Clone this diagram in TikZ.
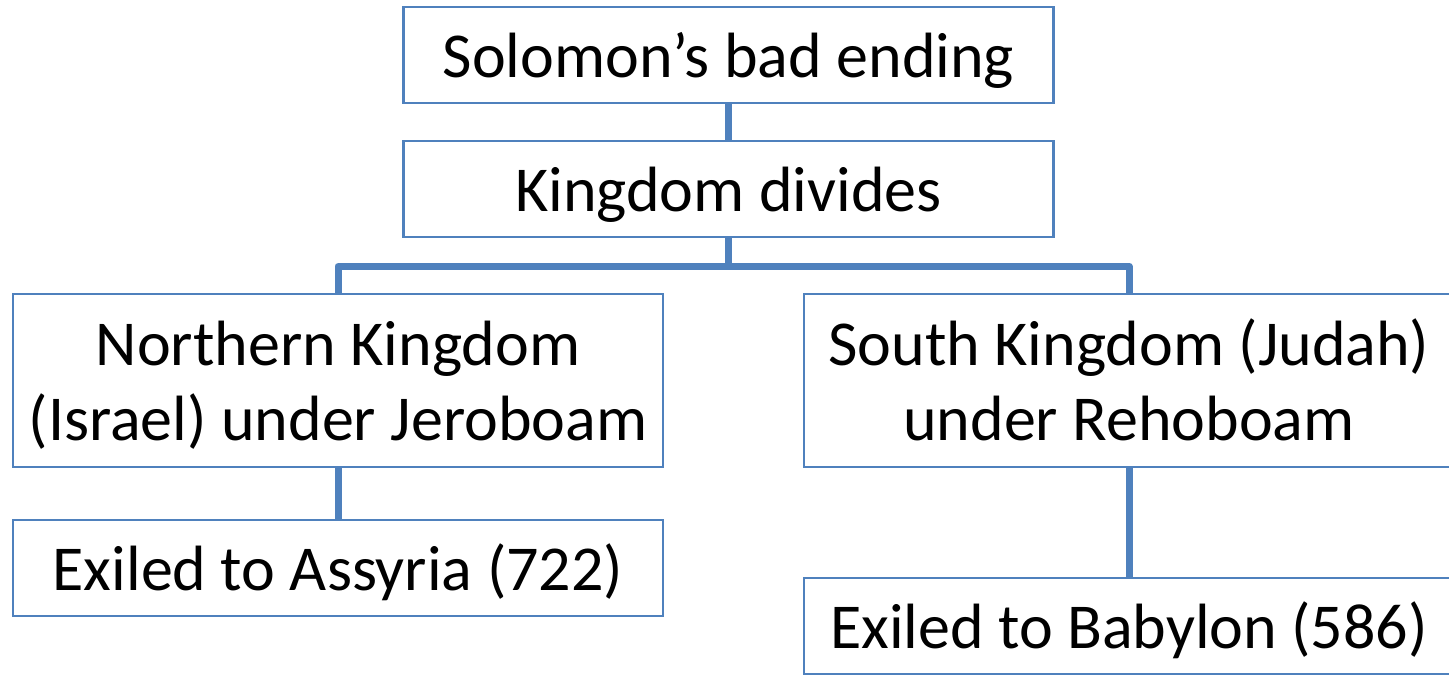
\documentclass[tikz,border=0pt]{standalone}
\usepackage{fontspec}
\setmainfont{Carlito}
\definecolor{boxblue}{HTML}{4F81BD}

\begin{document}
\begin{tikzpicture}
        [   x=0.5pt, y=-0.5pt,
            BoxBase/.style=
            {rectangle, draw=boxblue, line width=1.3pt, fill=white,
            minimum width=325pt, inner sep=0pt, text depth=8pt,
            font=\fontsize{32}{37.5}\selectfont},
            OneLine/.style=
            {BoxBase, minimum height=48pt, text height=30pt},
            TwoLine/.style=
            {BoxBase, minimum height=86.5pt, text height=67.5pt,
            align=center},
            Link/.style=
            {draw=boxblue, line width=3.5pt}
        ]
            \useasboundingbox (0,0) rectangle (1449,675);

            \node[OneLine] (sol) at (728.5,55){Solomon’s bad ending};
            \node[OneLine] (div) at (728.5,189){Kingdom divides};
            \node[TwoLine] (north) at (338,380.5)
                {Northern Kingdom\\(Israel) under Jeroboam};
            \node[TwoLine] (south) at (1129,380.5)
                {South Kingdom (Judah)\\under Rehoboam};
            \node[OneLine] (assy) at (338,568){Exiled to Assyria (722)};
            \node[OneLine] (baby) at (1129,626){Exiled to Babylon (586)};

            \path (div.south) ++(0,28) coordinate (fork);
            \draw[Link] (sol.south) -- (div.north);
            \draw[Link] (div.south) -- (fork);
            \foreach \k in {north, south}
                \draw[Link, line join=round] (fork) -| (\k.north);
            \draw[Link] (north.south) -- (assy.north);
            \draw[Link] (south.south) -- (baby.north);
    \end{tikzpicture}
\end{document}
